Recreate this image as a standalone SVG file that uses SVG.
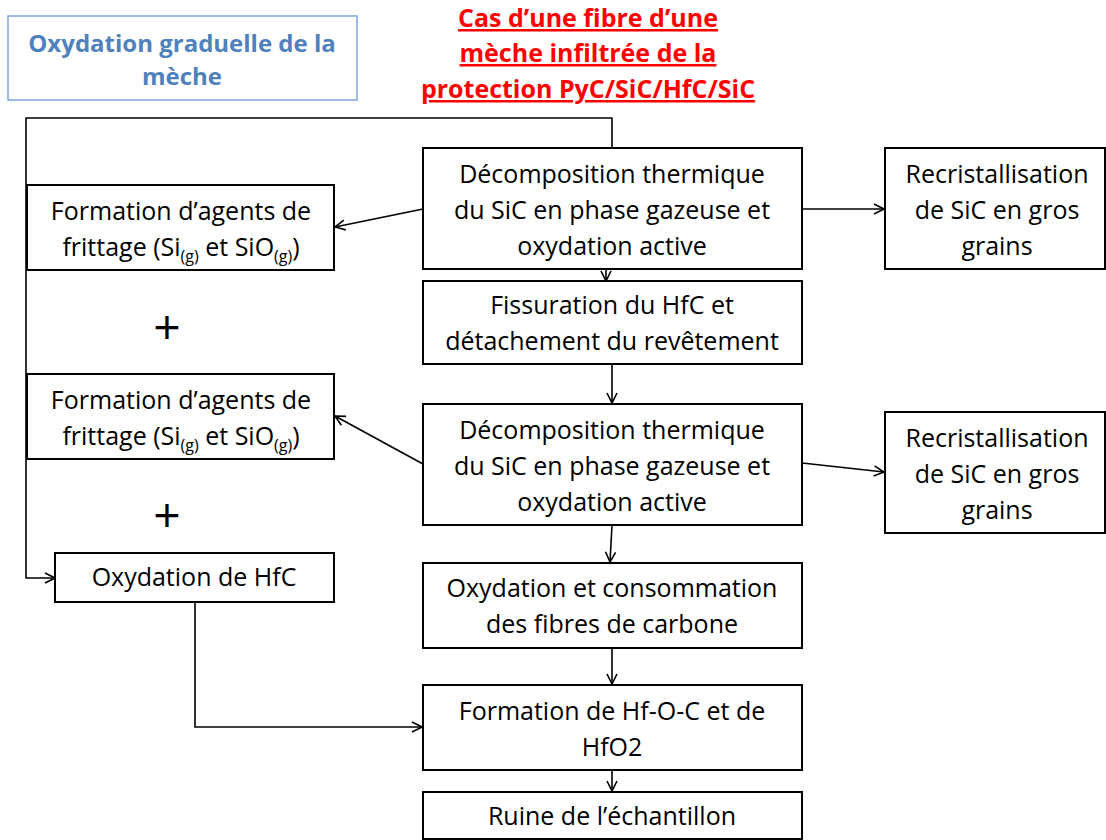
<svg xmlns="http://www.w3.org/2000/svg" width="1106" height="840" viewBox="0 0 1106 840">
<defs>
<marker id="ah" viewBox="0 0 12 12" refX="11" refY="6" markerWidth="12" markerHeight="12" markerUnits="userSpaceOnUse" orient="auto">
<path d="M1,1 L11,6 L1,11" fill="none" stroke="#000" stroke-width="1.6"/>
</marker>
</defs>
<style>
.box{fill:#fff;stroke:#000;stroke-width:2}
.t{font-family:"Open Sans","Liberation Sans",sans-serif;font-size:25px;fill:#000;text-anchor:middle}
.sub{font-size:16px}
.c{fill:none;stroke:#000;stroke-width:1.6}
.red{font-family:"Open Sans","Liberation Sans",sans-serif;font-size:25px;font-weight:bold;fill:#ff0000;text-anchor:middle;text-decoration:underline}
.blue{font-family:"Open Sans","Liberation Sans",sans-serif;font-size:24px;font-weight:bold;fill:#4f81bd;text-anchor:middle}
.plus{font-family:"Open Sans","Liberation Sans",sans-serif;font-size:48px;fill:#000;text-anchor:middle}
</style>
<rect width="1106" height="840" fill="#fff"/>
<g id="title-box">
<rect x="8" y="16" width="349" height="84" fill="#fff" stroke="#7ea6d8" stroke-width="1.5"/>
<text class="blue" x="182" y="52">Oxydation graduelle de la</text>
<text class="blue" x="182" y="85">mèche</text>
</g>
<g id="title-red">
<text class="red" x="588" y="27">Cas d’une fibre d’une</text>
<text class="red" x="588" y="62">mèche infiltrée de la</text>
<text class="red" x="588" y="98">protection PyC/SiC/HfC/SiC</text>
</g>
<g id="connectors">
<polyline class="c" points="612,148 612,118 26,118 26,578 55,578" marker-end="url(#ah)"/>
<line class="c" x1="423" y1="209" x2="335" y2="227" marker-end="url(#ah)"/>
<line class="c" x1="802" y1="209" x2="884" y2="209" marker-end="url(#ah)"/>
<line class="c" x1="606" y1="269" x2="606" y2="281" marker-end="url(#ah)"/>
<line class="c" x1="612" y1="364" x2="612" y2="403" marker-end="url(#ah)"/>
<line class="c" x1="423" y1="464" x2="335" y2="416" marker-end="url(#ah)"/>
<line class="c" x1="802" y1="463" x2="884" y2="472" marker-end="url(#ah)"/>
<line class="c" x1="612" y1="525" x2="610" y2="562" marker-end="url(#ah)"/>
<line class="c" x1="612" y1="648" x2="612" y2="684" marker-end="url(#ah)"/>
<polyline class="c" points="195,602 195,727 422,727" marker-end="url(#ah)"/>
<line class="c" x1="612" y1="770" x2="612" y2="791" marker-end="url(#ah)"/>
</g>
<g id="formation1">
<rect class="box" x="27" y="185" width="307" height="85"/>
<text class="t" x="181" y="220">Formation d’agents de</text>
<text class="t" x="181" y="256">frittage (Si<tspan class="sub" dy="6">(g)</tspan><tspan dy="-6"> et SiO</tspan><tspan class="sub" dy="6">(g)</tspan><tspan dy="-6">)</tspan></text>
</g>
<g id="decomp1">
<rect class="box" x="423" y="148" width="379" height="121"/>
<text class="t" x="612" y="183">Décomposition thermique</text>
<text class="t" x="612" y="219">du SiC en phase gazeuse et</text>
<text class="t" x="612" y="255">oxydation active</text>
</g>
<g id="recrist1">
<rect class="box" x="885" y="148" width="220" height="121"/>
<text class="t" x="997" y="183">Recristallisation</text>
<text class="t" x="997" y="219">de SiC en gros</text>
<text class="t" x="997" y="255">grains</text>
</g>
<g id="plus1"><text class="plus" x="167" y="344">+</text></g>
<g id="fissuration">
<rect class="box" x="423" y="281" width="379" height="83"/>
<text class="t" x="612" y="314">Fissuration du HfC et</text>
<text class="t" x="612" y="350">détachement du revêtement</text>
</g>
<g id="formation2">
<rect class="box" x="27" y="374" width="307" height="85"/>
<text class="t" x="181" y="409">Formation d’agents de</text>
<text class="t" x="181" y="445">frittage (Si<tspan class="sub" dy="6">(g)</tspan><tspan dy="-6"> et SiO</tspan><tspan class="sub" dy="6">(g)</tspan><tspan dy="-6">)</tspan></text>
</g>
<g id="decomp2">
<rect class="box" x="423" y="404" width="379" height="121"/>
<text class="t" x="612" y="439">Décomposition thermique</text>
<text class="t" x="612" y="475">du SiC en phase gazeuse et</text>
<text class="t" x="612" y="511">oxydation active</text>
</g>
<g id="recrist2">
<rect class="box" x="885" y="412" width="220" height="121"/>
<text class="t" x="997" y="447">Recristallisation</text>
<text class="t" x="997" y="483">de SiC en gros</text>
<text class="t" x="997" y="519">grains</text>
</g>
<g id="plus2"><text class="plus" x="167" y="532">+</text></g>
<g id="oxyHfC">
<rect class="box" x="55" y="553" width="279" height="49"/>
<text class="t" x="194" y="586">Oxydation de HfC</text>
</g>
<g id="oxyFibres">
<rect class="box" x="423" y="563" width="379" height="85"/>
<text class="t" x="612" y="597">Oxydation et consommation</text>
<text class="t" x="612" y="633">des fibres de carbone</text>
</g>
<g id="formationHf">
<rect class="box" x="423" y="685" width="379" height="85"/>
<text class="t" x="612" y="720">Formation de Hf-O-C et de</text>
<text class="t" x="612" y="756">HfO2</text>
</g>
<g id="ruine">
<rect class="box" x="423" y="792" width="379" height="47"/>
<text class="t" x="612" y="825">Ruine de l’échantillon</text>
</g>
</svg>
